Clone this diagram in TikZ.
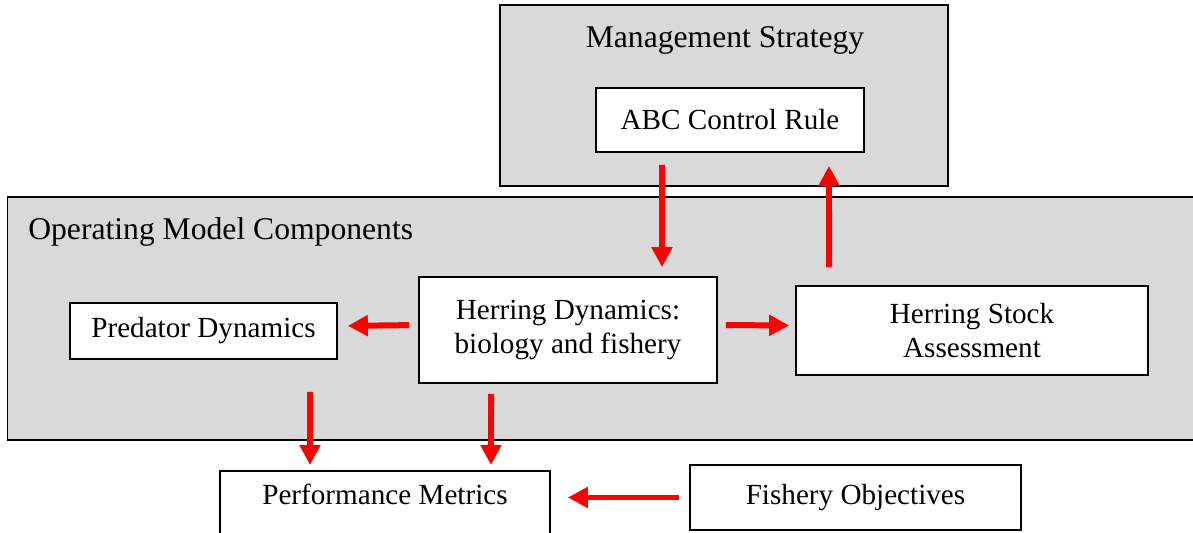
\documentclass[tikz,border=0pt]{standalone}
\usepackage{fontspec}
\setmainfont{Liberation Serif}
\usetikzlibrary{arrows.meta}
\definecolor{panelgray}{RGB}{217,217,217}
\definecolor{flowred}{RGB}{255,0,0}
\tikzset{
  panel/.style={draw, fill=panelgray, line width=1pt, inner sep=0pt},
  box/.style={draw, fill=white, line width=1pt, inner sep=0pt, align=center,
    font=\fontsize{16.6}{19.4}\selectfont},
  flow/.style={draw=flowred, line width=3.4pt, -{Triangle[length=0.4cm, width=0.4cm]}}
}

\begin{document}
\begin{tikzpicture}[x=0.02cm, y=-0.02cm]
				\useasboundingbox (0,0) rectangle (1193,533);
				% Panels
				\node[panel, minimum width=8.96cm, minimum height=3.62cm] (mgmt) at (724,95.5) {};
				\node[font=\fontsize{18}{19.5}\selectfont] (mgmtlabel) at (725,40) {Management Strategy};
				\node[panel, minimum width=23.9cm, minimum height=4.86cm] (oper) at (605,318.5) {};
				\node[font=\fontsize{18}{19.5}\selectfont, anchor=west, inner sep=0pt] (operlabel) at (28,232) {Operating Model Components};
				
				% Boxes
				\node[box, minimum width=5.36cm, minimum height=1.28cm] (abc) at (730,120) {ABC Control Rule};
				\node[box, minimum width=5.34cm, minimum height=1.12cm] (pred) at (203.5,331) {Predator Dynamics};
				\node[box, minimum width=5.96cm, minimum height=2.12cm] (herr) at (568,330) {Herring Dynamics:\\biology and fishery};
				\node[box, minimum width=7.04cm, minimum height=1.78cm] (stock) at (972,330.5) {Herring Stock\\Assessment};
				\node[box, minimum width=6.6cm, minimum height=1.6cm, text depth=0.68cm, anchor=north] (perf) at (385,470) {Performance Metrics};
				\node[box, minimum width=6.62cm, minimum height=1.3cm] (fish) at (855.5,497.5) {Fishery Objectives};
				
				% Arrows
				\draw[flow, shorten <=0.24cm, shorten >=0.18cm] ([xshift=-1.36cm]abc.south) -- ([xshift=1.88cm]herr.north);
				\draw[flow, shorten <=0.36cm, shorten >=0.26cm] ([xshift=-2.86cm]stock.north) -- ([xshift=1.98cm]abc.south);
				\draw[flow, shorten <=0.18cm, shorten >=0.2cm] ([yshift=0.1cm]herr.west) -- ([yshift=0.1cm]pred.east);
				\draw[flow, shorten <=0.16cm, shorten >=0.12cm] ([yshift=0.1cm]herr.east) -- ([yshift=0.1cm]stock.west);
				\draw[flow, shorten <=0.64cm, shorten >=0.1cm] ([xshift=2.13cm]pred.south) -- ([xshift=-1.5cm]perf.north);
				\draw[flow, shorten <=0.2cm, shorten >=0.1cm] ([xshift=-1.54cm]herr.south) -- ([xshift=2.12cm]perf.north);
				\draw[flow, shorten <=0.2cm, shorten >=0.34cm] (fish.west) -- (perf.east |- fish.west);
\end{tikzpicture}
\end{document}
